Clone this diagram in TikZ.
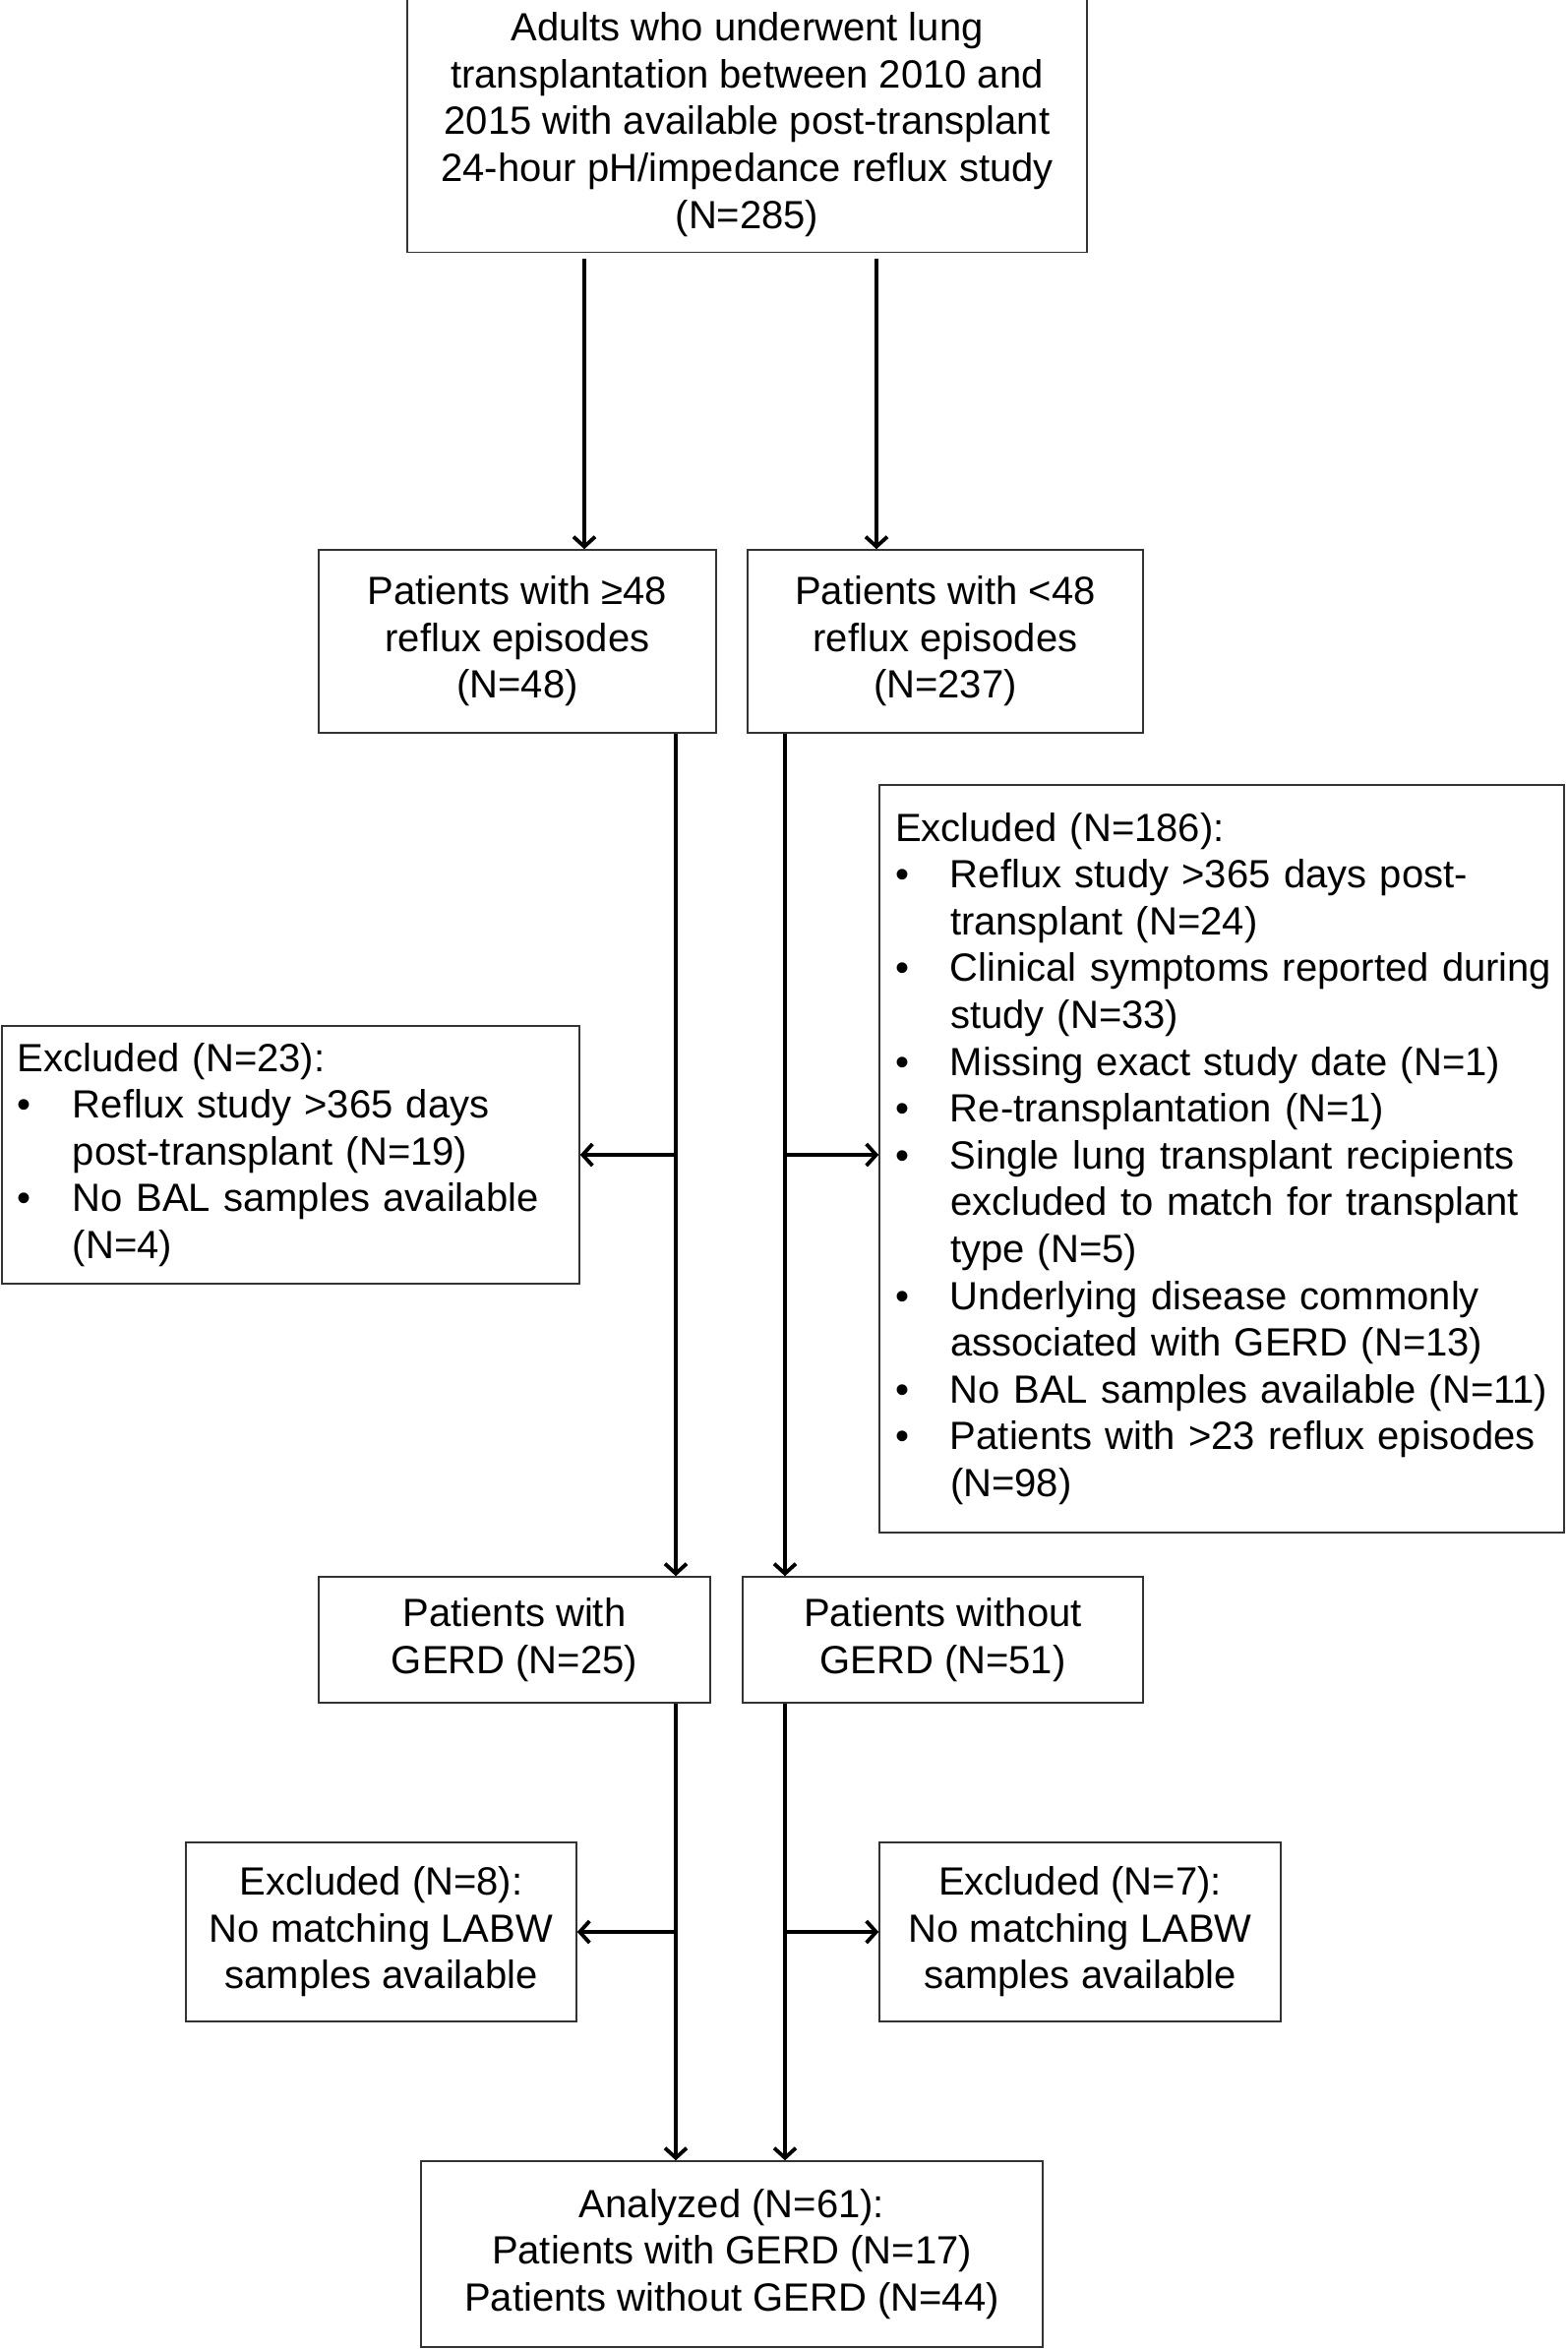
\documentclass[tikz,border=0pt]{standalone}
\usepackage{fontspec}
\setmainfont{Liberation Sans}
\usetikzlibrary{arrows.meta,calc}

\tikzset{
  box/.style={draw=black!80, line width=0.75pt, inner sep=8pt, font=\fontsize{20}{23.8}\selectfont},
  cbox/.style={box, align=center},
  lbox/.style={box, align=left},
  arr/.style={line width=1.9pt, -{Straight Barb[length=5pt,width=11pt]}}
}
\newcommand{\blt}[1]{\makebox[28pt][l]{\textbullet}\mbox{#1}}
\newcommand{\ind}[1]{\hspace*{28pt}\mbox{#1}}

\begin{document}
\begin{tikzpicture}[x=0.5pt, y=-0.5pt]
    \useasboundingbox (0,0) rectangle (1594,2388);

    % Top box
    \node[cbox, minimum width=345.5pt, minimum height=126.5pt] (top) at (759.5,126.5)
        {Adults who underwent lung\\transplantation between 2010 and\\2015 with available post-transplant\\24-hour pH/impedance reflux study\\(N=285)};

    % Reflux episode split
    \node[cbox, minimum width=202pt, minimum height=93pt] (ge) at (526,652) {Patients with ≥48\\reflux episodes\\(N=48)};
    \node[cbox, minimum width=201pt, minimum height=93pt] (lt) at (961,652) {Patients with <48\\reflux episodes\\(N=237)};

    % Exclusions after split
    \node[lbox, text width=277.5pt, minimum height=131pt] (ex23) at (295.5,1174)
        {Excluded (N=23):\\
         \blt{Reflux study >365 days}\\
         \ind{post-transplant (N=19)}\\
         \blt{No BAL samples available}\\
         \ind{(N=4)}};
    \node[lbox, text width=332pt, minimum height=380pt] (ex186) at (1242,1178)
        {Excluded (N=186):\\
         \blt{Reflux study >365 days post-}\\
         \ind{transplant (N=24)}\\
         \blt{Clinical symptoms reported during}\\
         \ind{study (N=33)}\\
         \blt{Missing exact study date (N=1)}\\
         \blt{Re-transplantation (N=1)}\\
         \blt{Single lung transplant recipients}\\
         \ind{excluded to match for transplant}\\
         \ind{type (N=5)}\\
         \blt{Underlying disease commonly}\\
         \ind{associated with GERD (N=13)}\\
         \blt{No BAL samples available (N=11)}\\
         \blt{Patients with >23 reflux episodes}\\
         \ind{(N=98)}};

    % GERD groups
    \node[cbox, minimum width=199pt, minimum height=64pt] (gerd) at (523,1667) {Patients with\\GERD (N=25)};
    \node[cbox, minimum width=203.5pt, minimum height=64pt] (nogerd) at (958.5,1667) {Patients without\\GERD (N=51)};

    % LABW exclusions
    \node[cbox, minimum width=198.5pt, minimum height=91pt] (ex8) at (387.5,1964) {Excluded (N=8):\\No matching LABW\\samples available};
    \node[cbox, minimum width=204pt, minimum height=91pt] (ex7) at (1098,1964) {Excluded (N=7):\\No matching LABW\\samples available};

    % Final
    \node[cbox, minimum width=316pt, minimum height=94.5pt] (ana) at (744,2291.5)
        {Analyzed (N=61):\\Patients with GERD (N=17)\\Patients without GERD (N=44)};

    % Arrow columns
    \coordinate (xa) at (594,0);
    \coordinate (xb) at (891,0);
    \coordinate (xc) at (687,0);
    \coordinate (xd) at (798,0);

    \draw[arr, shorten <=3pt] (top.south -| xa) -- (ge.north -| xa);
    \draw[arr, shorten <=3pt] (top.south -| xb) -- (lt.north -| xb);
    \draw[arr] (ge.south -| xc) -- (gerd.north -| xc);
    \draw[arr] (lt.south -| xd) -- (nogerd.north -| xd);
    \draw[arr] (ex23.east -| xc) -- (ex23.east);
    \draw[arr] (ex23.east -| xd) -- (ex23.east -| ex186.west);
    \draw[arr] (gerd.south -| xc) -- (ana.north -| xc);
    \draw[arr] (nogerd.south -| xd) -- (ana.north -| xd);
    \draw[arr] (ex8.east -| xc) -- (ex8.east);
    \draw[arr] (ex8.east -| xd) -- (ex7.west);
\end{tikzpicture}
\end{document}
